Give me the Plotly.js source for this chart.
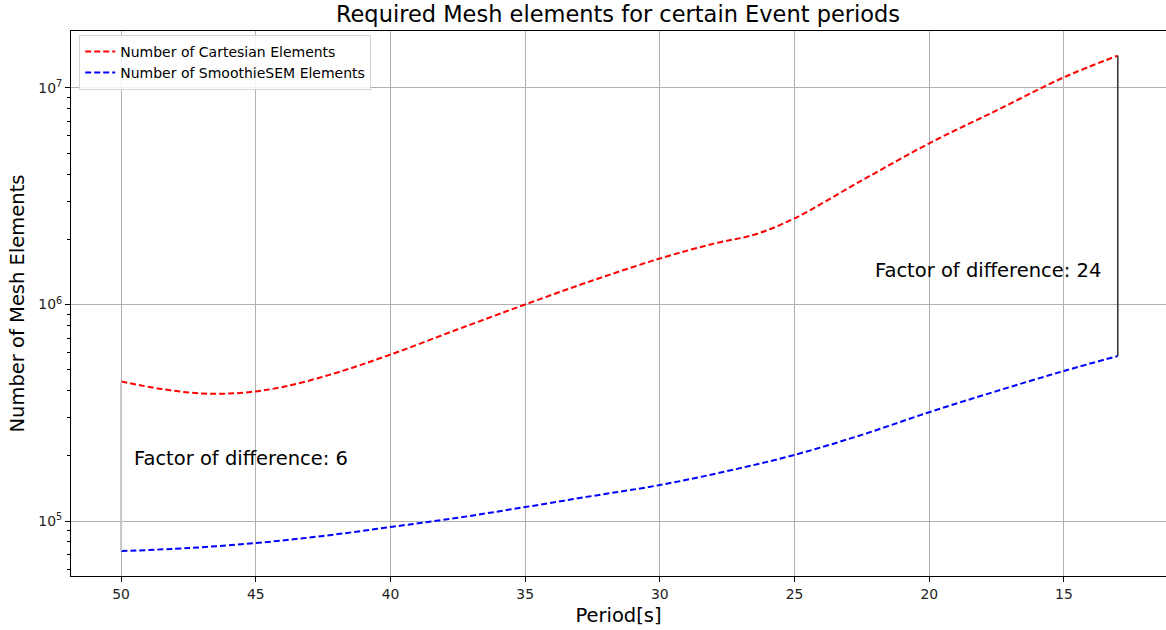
<!DOCTYPE html>
<html>
<head>
<meta charset="utf-8">
<script src="https://cdn.plot.ly/plotly-3.0.1.min.js"></script>
<style>html,body{margin:0;padding:0;background:#fff}#chart{width:1166px;height:630px}</style>
</head>
<body>
<div id="chart"></div>
<script>
// Periods in seconds
var periods = [50, 48.5, 47, 45.5, 44, 42, 40, 37.5, 35, 32.5, 30, 28, 26.5, 25, 22.5, 20, 17.5, 15, 13];
// Number of Cartesian elements
var cartesian = [441000, 407000, 388000, 391000, 416000, 484000, 587000, 768000, 1000000, 1290000, 1630000, 1910000, 2100000, 2500000, 3740000, 5550000, 7870000, 11200000, 14100000];
// Number of SmoothieSEM elements
var smoothiePeriods = [50, 47.5, 45, 42.5, 40, 37.5, 35, 32.5, 30, 27.5, 25, 22.5, 20, 17.5, 15, 13];
var smoothie = [72600, 75000, 79100, 85300, 93800, 103500, 116000, 130500, 146600, 170000, 202000, 250000, 318000, 398000, 493000, 578000];

var seriesNames = ["Number of Cartesian Elements", "Number of SmoothieSEM Elements"];
var titleText = "Required Mesh elements for certain Event periods";
var xTitle = "Period[s]";
var yTitle = "Number of Mesh Elements";
var xTickVals = [50, 45, 40, 35, 30, 25, 20, 15];
var yTickVals = [1e5, 1e6, 1e7];
var yTickText = ["10<sup>5</sup>", "10<sup>6</sup>", "10<sup>7</sup>"];
var annotationTexts = ["Factor of difference: 6", "Factor of difference: 24"];
var annotationX = [49.6, 22.1];
var annotationY = [195000, 1440000];

var font = "DejaVu Sans, sans-serif";

var firstP = periods[0], lastP = periods[periods.length - 1];
var traces = [
  {x: periods, y: cartesian, name: seriesNames[0], mode: "lines",
   line: {color: "#ff0000", dash: "6px,3px", width: 2, shape: "spline", smoothing: 1}},
  {x: smoothiePeriods, y: smoothie, name: seriesNames[1], mode: "lines",
   line: {color: "#0000ff", dash: "6px,3px", width: 2, shape: "spline", smoothing: 1}},
  {x: [firstP, firstP], y: [smoothie[0], cartesian[0]], mode: "lines", showlegend: false,
   hoverinfo: "skip", line: {color: "#c8c8c8", width: 2.2}},
  {x: [lastP, lastP], y: [smoothie[smoothie.length - 1], cartesian[cartesian.length - 1]], mode: "lines", showlegend: false,
   hoverinfo: "skip", line: {color: "#3a3a3a", width: 1.6}}
];

var minorVals = [];
for (var e = 4; e <= 7; e++) { for (var m = 2; m <= 9; m++) minorVals.push(m * Math.pow(10, e)); }

var annotations = annotationTexts.map(function (t, i) {
  return {x: annotationX[i], y: Math.log10(annotationY[i]), xref: "x", yref: "y", text: t,
          showarrow: false, xanchor: "left", yanchor: "middle",
          font: {family: font, size: 19.5, color: "#000"}};
});

var layout = {
  width: 1166, height: 630,
  margin: {l: 71, r: 0, t: 31, b: 54},
  paper_bgcolor: "#fff", plot_bgcolor: "#fff",
  title: {text: titleText, font: {family: font, size: 22.5, color: "#000"},
          x: 0.53, xanchor: "center", y: 0.978, yanchor: "middle"},
  showlegend: true,
  legend: {x: 0.0075, y: 0.993, xanchor: "left", yanchor: "top", bgcolor: "rgba(255,255,255,0.85)",
           bordercolor: "#d4d4d4", borderwidth: 1, font: {family: font, size: 14, color: "#000"},
           tracegroupgap: 0},
  xaxis: {range: [51.86, 11.21], tickmode: "array", tickvals: xTickVals,
          showgrid: true, gridcolor: "#b0b0b0", gridwidth: 1,
          showline: true, linecolor: "#000", linewidth: 1, mirror: true,
          ticks: "outside", ticklen: 5, tickwidth: 1, tickcolor: "#000", zeroline: false,
          tickfont: {family: font, size: 13.9, color: "#222"},
          title: {text: xTitle, font: {family: font, size: 19.5, color: "#000"}, standoff: 7}},
  yaxis: {type: "log", range: [4.746, 7.263], tickmode: "array", tickvals: yTickVals, ticktext: yTickText,
          showgrid: true, gridcolor: "#b0b0b0", gridwidth: 1,
          showline: true, linecolor: "#000", linewidth: 1, mirror: true,
          ticks: "outside", ticklen: 5, tickwidth: 1, tickcolor: "#000", zeroline: false,
          tickfont: {family: font, size: 13.9, color: "#222"},
          minor: {tickmode: "array", tickvals: minorVals, ticks: "outside", ticklen: 3, tickcolor: "#000", showgrid: false},
          title: {text: yTitle, font: {family: font, size: 19.5, color: "#000"}, standoff: 8}},
  annotations: annotations
};

Plotly.newPlot("chart", traces, layout, {displayModeBar: false, staticPlot: true});
</script>
</body>
</html>
